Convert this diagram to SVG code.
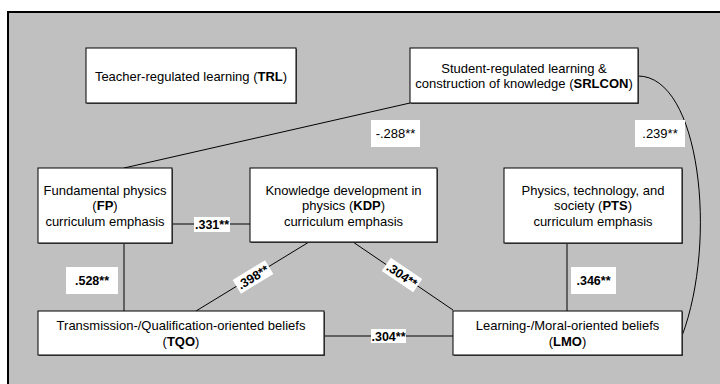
<svg xmlns="http://www.w3.org/2000/svg" width="720" height="384" viewBox="0 0 720 384">
<style>
.node rect.b{fill:#fff;stroke:#000;stroke-width:1}
.node rect.s{fill:#555}
text{font-family:"Liberation Sans",Arial,sans-serif;font-size:13px;fill:#000;text-anchor:middle}
.bold{font-weight:bold}
.lbl rect{fill:#fff}
.lbl text{font-size:13px}
.lbl text.bold{font-size:12.5px}
.conn line,.conn path{stroke:#000;stroke-width:1;fill:none}
</style>
<rect x="8" y="12" width="720" height="380" fill="#c0c0c0" stroke="#000" stroke-width="2"/>
<g id="connectors" class="conn">
<line x1="124" y1="168" x2="410" y2="103"/>
<path d="M638,76 C700,76 718,240 682,336"/>
<line x1="172" y1="224" x2="250" y2="224"/>
<line x1="124" y1="243" x2="124" y2="311"/>
<line x1="309" y1="242" x2="196" y2="311"/>
<line x1="353" y1="242" x2="453" y2="310"/>
<line x1="324" y1="336" x2="453" y2="336"/>
<line x1="567" y1="243" x2="567" y2="311"/>
</g>
<g id="labels" class="lbl">
<g><rect x="371" y="120" width="49" height="27"/><text x="395.5" y="138">-.288**</text></g>
<g><rect x="635" y="120" width="50" height="27"/><text x="660" y="138">.239**</text></g>
<g><rect x="194" y="217" width="36" height="15"/><text x="212" y="229" class="bold">.331**</text></g>
<g><rect x="66" y="267" width="52" height="27"/><text x="92" y="285" class="bold">.528**</text></g>
<g transform="translate(253,277) rotate(-31.4)"><rect x="-19" y="-8" width="38" height="16"/><text x="0" y="4.5" class="bold">.398**</text></g>
<g transform="translate(402,275) rotate(34.2)"><rect x="-19" y="-8" width="38" height="16"/><text x="0" y="4.5" class="bold">.304**</text></g>
<g><rect x="371" y="329" width="35" height="14"/><text x="388.5" y="341" class="bold">.304**</text></g>
<g><rect x="571" y="267" width="45" height="27"/><text x="593.5" y="285" class="bold">.346**</text></g>
</g>
<g id="TRL" class="node"><rect class="s" x="87" y="49" width="210" height="55"/><rect class="b" x="86" y="48" width="210" height="55"/><text x="191" y="80.5">Teacher-regulated learning (<tspan class="bold">TRL</tspan>)</text></g>
<g id="SRLCON" class="node"><rect class="s" x="411" y="49" width="228" height="55"/><rect class="b" x="410" y="48" width="228" height="55"/><text x="524" y="72.5">Student-regulated learning &amp;</text><text x="524" y="87.5">construction of knowledge (<tspan class="bold">SRLCON</tspan>)</text></g>
<g id="FP" class="node"><rect class="s" x="39" y="169" width="134" height="75"/><rect class="b" x="38" y="168" width="134" height="75"/><text x="105" y="194.5">Fundamental physics</text><text x="105" y="209.5">(<tspan class="bold">FP</tspan>)</text><text x="105" y="225.5">curriculum emphasis</text></g>
<g id="KDP" class="node"><rect class="s" x="251" y="169" width="187" height="74"/><rect class="b" x="250" y="168" width="187" height="74"/><text x="343.5" y="194.5">Knowledge development in</text><text x="343.5" y="209.5">physics (<tspan class="bold">KDP</tspan>)</text><text x="343.5" y="225.5">curriculum emphasis</text></g>
<g id="PTS" class="node"><rect class="s" x="505" y="169" width="178" height="75"/><rect class="b" x="504" y="168" width="178" height="75"/><text x="593" y="194.5">Physics, technology, and</text><text x="593" y="209.5">society (<tspan class="bold">PTS</tspan>)</text><text x="593" y="225.5">curriculum emphasis</text></g>
<g id="TQO" class="node"><rect class="s" x="39" y="312" width="286" height="44"/><rect class="b" x="38" y="311" width="286" height="44"/><text x="181" y="329.5">Transmission-/Qualification-oriented beliefs</text><text x="181" y="345.5">(<tspan class="bold">TQO</tspan>)</text></g>
<g id="LMO" class="node"><rect class="s" x="454" y="312" width="229" height="44"/><rect class="b" x="453" y="311" width="229" height="44"/><text x="567.5" y="329.5">Learning-/Moral-oriented beliefs</text><text x="567.5" y="345.5">(<tspan class="bold">LMO</tspan>)</text></g>
</svg>
